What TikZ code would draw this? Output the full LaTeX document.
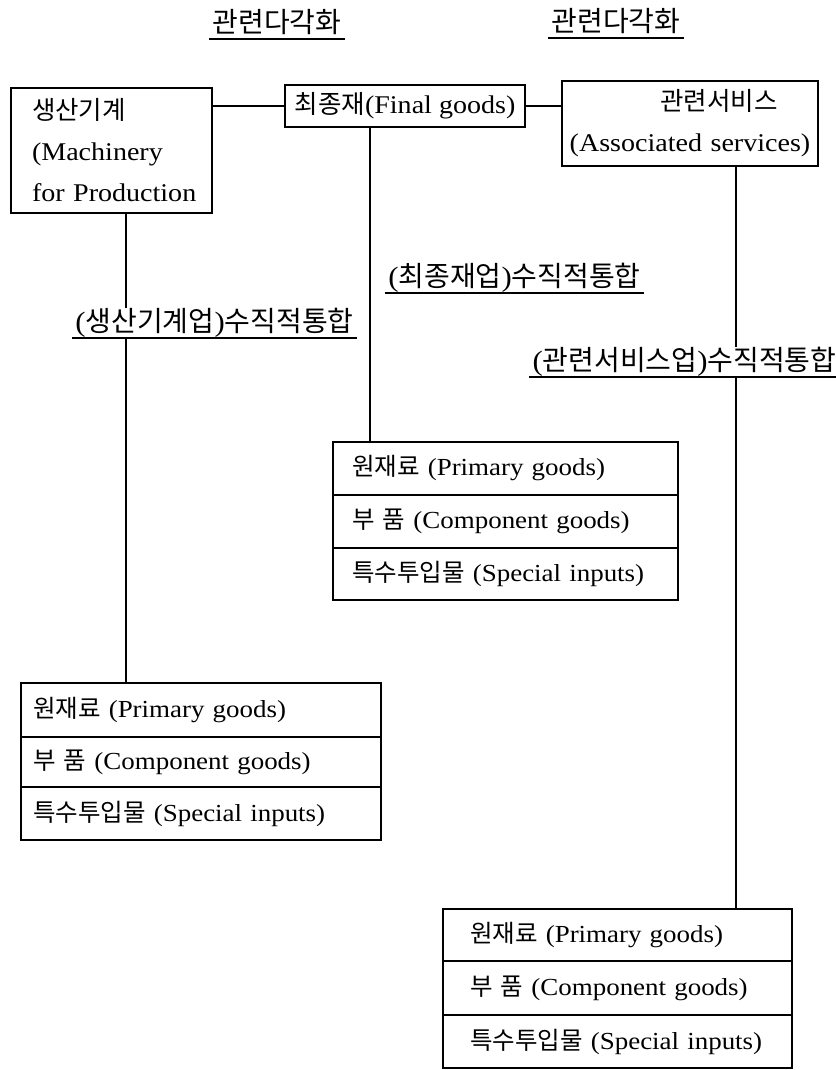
\documentclass[tikz,border=0pt]{standalone}
\usepackage{fontspec}
\setmainfont{Liberation Serif}[FakeStretch=1.1]
\newfontfamily\kr{Noto Sans CJK KR}[Scale=1.0]
\begin{document}
\begin{tikzpicture}[x=1pt,y=-1pt,
  box/.style={draw, line width=1.2pt, outer sep=0pt, anchor=north west},
  topfont/.style={font=\fontsize{25.5}{41}\selectfont},
  rowbox/.style={box, align=left, font=\fontsize{24.5}{29}\selectfont},
  lrow/.style={rowbox, minimum width=360pt, text width=336pt, inner xsep=12pt},
  mrow/.style={rowbox, minimum width=345pt, text width=307pt, inner xsep=19pt},
  rrow/.style={rowbox, minimum width=349pt, text width=295pt, inner xsep=27pt},
  lab/.style={font=\fontsize{28}{32}\selectfont, fill=white, inner xsep=3pt, inner ysep=1pt, text height=22pt, text depth=5.6pt},
  uline/.style={line width=1.2pt},
  conn/.style={line width=1.2pt}]
\useasboundingbox (0,0) rectangle (835,1070);

% top boxes
\node[box, topfont, minimum width=201pt, minimum height=125pt, text width=159pt, inner xsep=21pt, align=left] (lbox) at (11,88) {{\kr 생산기계}\\(Machinery\\\mbox{for Production}};
\node[box, topfont, minimum width=240pt, minimum height=42pt, inner sep=0pt] (fbox) at (285,85) {{\kr 최종재}(Final goods)};
\node[box, topfont, minimum width=256pt, minimum height=85pt, text width=248pt, inner xsep=4pt, align=center] (abox) at (562,81) {\hspace*{58pt}{\kr 관련서비스}\\(Associated services)};

% left group
\node[lrow, minimum height=54pt] (l1) at (21,683) {{\kr 원재료} (Primary goods)};
\node[lrow, minimum height=50pt] (l2) at (l1.south west) {{\kr 부 품} (Component goods)};
\node[lrow, minimum height=53pt] (l3) at (l2.south west) {{\kr 특수투입물} (Special inputs)};

% middle group
\node[mrow, minimum height=53pt] (m1) at (333,442) {{\kr 원재료} (Primary goods)};
\node[mrow, minimum height=53pt] (m2) at (m1.south west) {{\kr 부 품} (Component goods)};
\node[mrow, minimum height=52pt] (m3) at (m2.south west) {{\kr 특수투입물} (Special inputs)};

% right group
\node[rrow, minimum height=52pt] (r1) at (443,909) {{\kr 원재료} (Primary goods)};
\node[rrow, minimum height=54pt] (r2) at (r1.south west) {{\kr 부 품} (Component goods)};
\node[rrow, minimum height=53pt] (r3) at (r2.south west) {{\kr 특수투입물} (Special inputs)};

% connectors
\coordinate (lv) at (126,0);
\coordinate (mv) at (370,0);
\coordinate (rv) at (736,0);
\draw[conn] (lv |- lbox.south) -- (lv |- l1.north);
\draw[conn] (mv |- fbox.south) -- (mv |- m1.north);
\draw[conn] (rv |- abox.south) -- (rv |- r1.north);
\draw[conn] (fbox.west -| lbox.east) -- (fbox.west);
\draw[conn] (fbox.east) -- (fbox.east -| abox.west);

% titles and labels
\node[lab] (t1) at (277,24) {{\kr 관련다각화}};
\draw[uline] (t1.south west) -- (t1.south east);
\node[lab] (t2) at (616,23) {{\kr 관련다각화}};
\draw[uline] (t2.south west) -- (t2.south east);
\node[lab] (g1) at (214.5,323) {({\kr 생산기계업}){\kr 수직적통합}};
\draw[uline] (g1.south west) -- (g1.south east);
\node[lab] (g2) at (514.5,278) {({\kr 최종재업}){\kr 수직적통합}};
\draw[uline] (g2.south west) -- (g2.south east);
\node[lab] (g3) at (684.5,362) {({\kr 관련서비스업}){\kr 수직적통합}};
\draw[uline] (g3.south west) -- (g3.south east);
\end{tikzpicture}
\end{document}
